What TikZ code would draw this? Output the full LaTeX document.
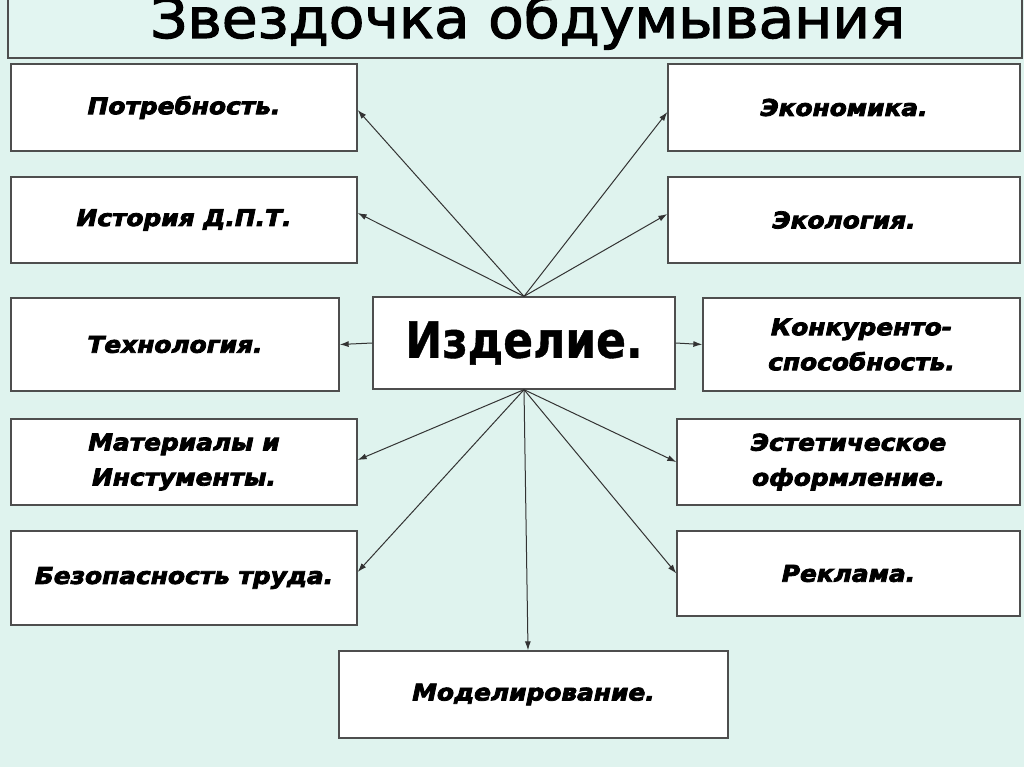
\documentclass[tikz,border=0pt]{standalone}
\usepackage{fontspec}
\usepackage{graphicx}
\setmainfont{DejaVu Sans}
\newfontfamily\titlefont{DejaVu Sans}
\newfontfamily\boxfont{DejaVu Sans}[FakeStretch=1.08]
\newfontfamily\bigfont{DejaVu Sans}[FakeStretch=0.88]
\newcommand{\heavytext}[2]{\special{pdf:literal direct 2 Tr #1 w}#2\special{pdf:literal direct 0 Tr}}
\usetikzlibrary{arrows.meta,calc}
\definecolor{bg}{HTML}{DFF3EE}
\definecolor{titlebg}{HTML}{E2F5F1}
\definecolor{edge}{HTML}{4E4E4E}
\definecolor{arr}{HTML}{333333}
\tikzset{
  box/.style={draw=edge, line width=1.3pt, fill=white, inner sep=0pt, align=center, text=black,
    font=\boxfont\bfseries\itshape\fontsize{23}{35}\selectfont},
  conn/.style={draw=arr, line width=1pt, -{Latex[length=9pt,width=6pt]}},
}
\begin{document}
\begin{tikzpicture}[x=1pt,y=-1pt]
\useasboundingbox[fill=bg] (0,0) rectangle (1024,767);
% title
\node[draw=edge, line width=1.3pt, fill=titlebg, minimum width=1014pt, minimum height=70pt, inner sep=0pt] (titlebox) at (515,23) {};
\node[anchor=base west, inner sep=0pt, text=black] (title) at (150,38)
  {\resizebox{755pt}{43pt}{\titlefont\heavytext{0.2}{Звездочка обдумывания}}};
% left column
\node[box, minimum width=346pt, minimum height=87pt] (potr) at (184,107.5) {\heavytext{0.8}{Потребность.}};
\node[box, minimum width=346pt, minimum height=86pt] (ist) at (184,220) {\heavytext{0.8}{История Д.П.Т.}};
\node[box, minimum width=328pt, minimum height=93pt] (tech) at (175,344.5) {\heavytext{0.8}{Технология.}};
\node[box, minimum width=346pt, minimum height=86pt] (mat) at (184,462) {\heavytext{0.8}{Материалы и}\\\heavytext{0.8}{Инстументы.}};
\node[box, minimum width=346pt, minimum height=94pt] (bez) at (184,578) {\heavytext{0.8}{Безопасность труда.}};
% right column
\node[box, minimum width=352pt, minimum height=87pt] (ekon) at (844,107.5) {\heavytext{0.8}{Экономика.}};
\node[box, minimum width=352pt, minimum height=86pt] (ekol) at (844,220) {\heavytext{0.8}{Экология.}};
\node[box, minimum width=317pt, minimum height=93pt] (konk) at (861.5,344.5) {\heavytext{0.8}{Конкуренто-}\\\heavytext{0.8}{способность.}};
\node[box, minimum width=343pt, minimum height=86pt] (est) at (848.5,462) {\heavytext{0.8}{Эстетическое}\\\heavytext{0.8}{оформление.}};
\node[box, minimum width=343pt, minimum height=85pt] (rekl) at (848.5,573.5) {\heavytext{0.8}{Реклама.}};
% centre and bottom
\node[box, minimum width=302pt, minimum height=92pt, font=\bigfont\bfseries\fontsize{50}{56}\selectfont] (izd) at (524,343) {\heavytext{0.4}{Изделие.}};
\node[box, minimum width=389pt, minimum height=87pt] (mod) at (533.5,694.5) {\heavytext{0.8}{Моделирование.}};
% connectors
\draw[conn] (izd.north) -- ([yshift=-2.5pt]potr.east);
\draw[conn] (izd.north) -- ([yshift=7pt]ist.east);
\draw[conn] (izd.north) -- ([yshift=-4.5pt]ekon.west);
\draw[conn] (izd.north) -- ([yshift=6pt]ekol.west);
\draw[conn] (izd.west) -- (tech.east);
\draw[conn] (izd.east) -- (konk.west);
\draw[conn] (izd.south) -- ([yshift=2pt]mat.east);
\draw[conn] (izd.south) -- ([yshift=6pt]bez.east);
\draw[conn] (izd.south) -- (est.west);
\draw[conn] (izd.south) -- (rekl.west);
\draw[conn] (izd.south) -- ([xshift=-5.5pt]mod.north);
\end{tikzpicture}
\end{document}
